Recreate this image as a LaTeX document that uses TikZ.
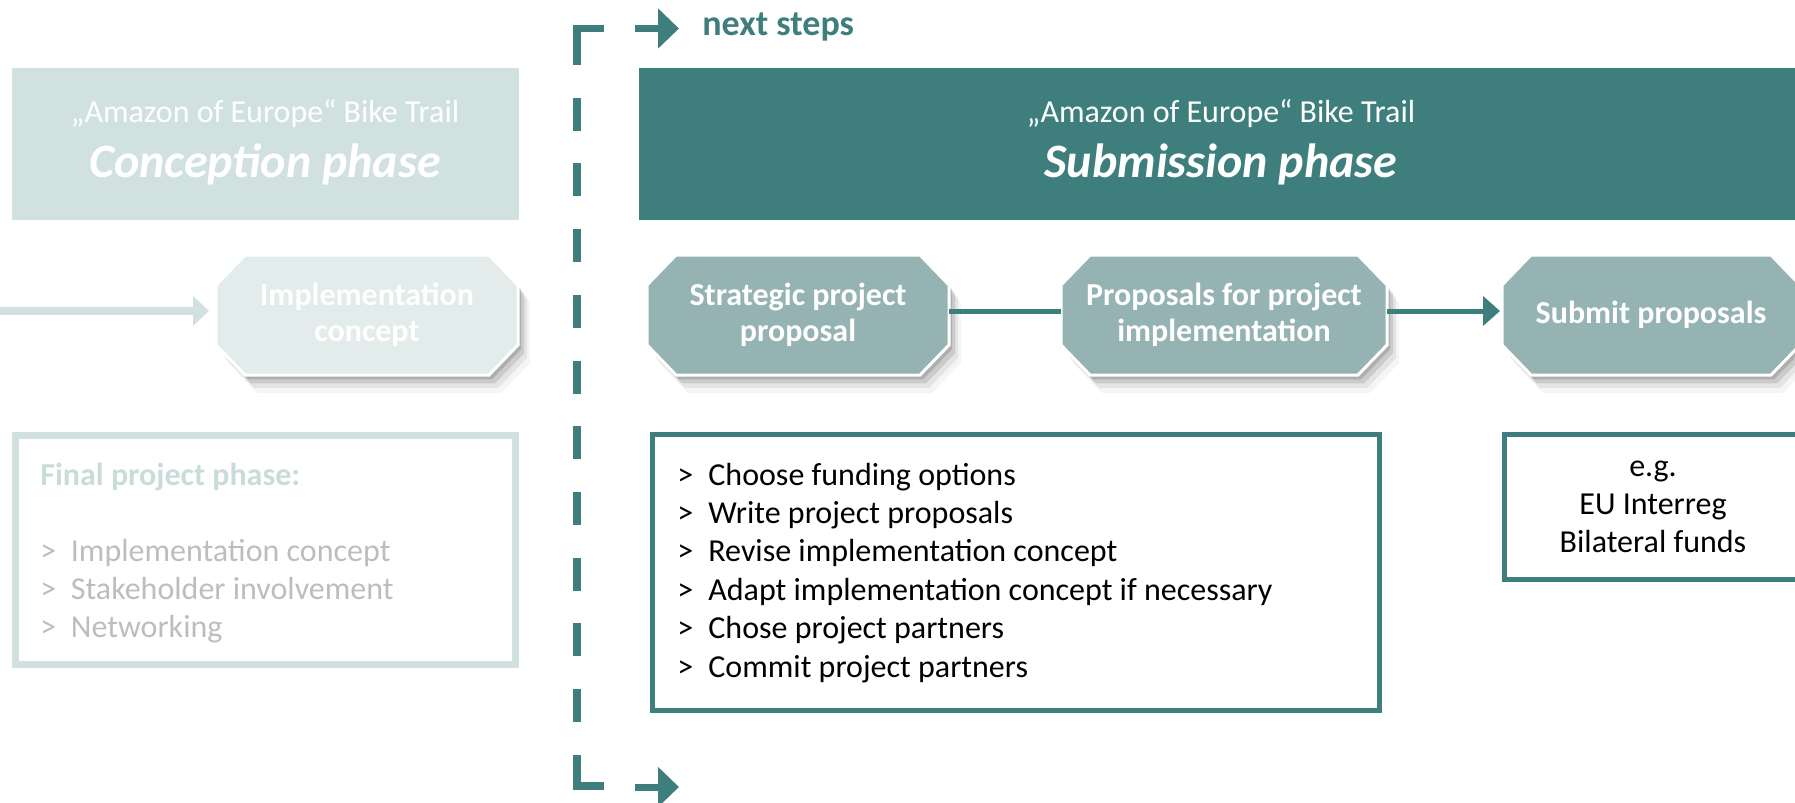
\documentclass[tikz,border=0pt]{standalone}
\usepackage{fontspec}
\setmainfont{Carlito}
\usetikzlibrary{backgrounds,arrows.meta}
\definecolor{tealD}{HTML}{3E7F7D}
\definecolor{octfill}{HTML}{94B3B2}
\definecolor{lightbox}{HTML}{D0E1E0}
\definecolor{lightoct}{HTML}{E2ECEB}
\definecolor{ftitle}{HTML}{C8DCDA}
\definecolor{fitem}{HTML}{BDBDBD}
\newcommand{\octpath}[1]{([xshift=14.5pt]#1.north west) -- ([xshift=-14.5pt]#1.north east) -- ([yshift=-15pt]#1.north east) -- ([yshift=15pt]#1.south east) -- ([xshift=-14.5pt]#1.south east) -- ([xshift=14.5pt]#1.south west) -- ([yshift=15pt]#1.south west) -- ([yshift=-15pt]#1.north west) -- cycle}
\newcommand{\octdraw}[2]{%
  \fill[black, opacity=.04, transform canvas={xshift=6pt,yshift=-9pt}] \octpath{#1};
  \fill[black, opacity=.07, transform canvas={xshift=4.5pt,yshift=-6.5pt}] \octpath{#1};
  \fill[black, opacity=.11, transform canvas={xshift=3pt,yshift=-4.2pt}] \octpath{#1};
  \fill[black, opacity=.14, transform canvas={xshift=1.5pt,yshift=-2.2pt}] \octpath{#1};
  \filldraw[fill=#2, draw=white, line width=1.5pt, line join=miter] \octpath{#1};}
\begin{document}
\begin{tikzpicture}[x=0.5pt,y=-0.5pt,
  oct/.style={rectangle, minimum width=151pt, minimum height=60pt, draw=none, outer sep=0pt, align=center,
    font=\fontsize{16}{18}\selectfont\bfseries, text=white, inner sep=0pt},
  dline/.style={draw=tealD, line width=3.75pt},
  nxarrow/.style={draw=tealD, line width=3.5pt, -{Triangle[length=10.5pt,width=19.5pt]}},
  subtitle/.style={font=\fontsize{16}{18}\selectfont, text=white, inner sep=0pt, anchor=base},
  phasetitle/.style={font=\fontsize{24}{26}\selectfont\bfseries\itshape, text=white, inner sep=0pt, anchor=base},
  listtxt/.style={font=\fontsize{16}{19}\selectfont, text=black, inner sep=0pt, anchor=base west},
  greytxt/.style={font=\fontsize{16}{19}\selectfont, text=fitem, inner sep=0pt, anchor=base west},
  egtxt/.style={font=\fontsize{16}{19}\selectfont, text=black, inner sep=0pt, anchor=base}
]
\useasboundingbox (0,0) rectangle (1795,803);

% phase header boxes
\node[rectangle, fill=lightbox, minimum width=253.5pt, minimum height=76pt, inner sep=0pt] (conc) at (265.5,144) {};
\node[subtitle] (concA) at (265,122) {„Amazon of Europe“ Bike Trail};
\node[phasetitle] (concB) at (265,177) {Conception phase};

\node[rectangle, fill=tealD, minimum width=580pt, minimum height=76pt, inner sep=0pt] (subb) at (1219,144) {};
\node[subtitle] (subA) at (1221,122) {„Amazon of Europe“ Bike Trail};
\node[phasetitle] (subB) at (1221,177) {Submission phase};

% dashed divider
\coordinate (dtopR) at (604,28.5);
\coordinate (dtop) at (577,28.5);
\coordinate (d1) at (577,65);
\coordinate (d2) at (577,755);
\coordinate (dbot) at (577,786);
\coordinate (dbotR) at (604,786);
\draw[dline] (dtopR) -- (dtop) -- (d1);
\draw[dline, dash pattern=on 16.5pt off 16.35pt, dash phase=16.5pt] (d1) -- (d2);
\draw[dline] (d2) -- (dbot) -- (dbotR);

% next steps arrows
\coordinate (na0) at (635,28.5);
\coordinate (na1) at (679,28.5);
\draw[nxarrow] (na0) -- (na1);
\node[font=\fontsize{18}{20}\selectfont\bfseries, text=tealD, inner sep=0pt, anchor=base west] (next) at (702,35) {next steps};
\coordinate (nb0) at (635,787);
\coordinate (nb1) at (679,787);
\draw[nxarrow] (nb0) -- (nb1);

% octagons (text nodes, shapes drawn behind)
\node[oct] (impl) at (367,315) {Implementation\\concept};
\node[oct] (strat) at (798,315) {Strategic project\\proposal};
\node[oct, minimum width=163pt] (prop) at (1224,315) {Proposals for project\\implementation};
\node[oct, minimum width=149pt] (subm) at (1651,315) {Submit proposals};
\begin{scope}[on background layer]
  \octdraw{impl}{lightoct}
  \octdraw{strat}{octfill}
  \octdraw{prop}{octfill}
  \octdraw{subm}{octfill}
\end{scope}

% connectors
\coordinate (lin) at (0,311);
\draw[lightbox, line width=4pt, -{Triangle[length=8pt,width=14.5pt]}, shorten >=3.5pt] (lin) -- (lin -| impl.west);
\draw[tealD, line width=2.5pt] ([yshift=2pt]strat.east) -- ([yshift=2pt]prop.west);
\draw[tealD, line width=2.5pt, -{Triangle[length=8.5pt,width=14.5pt]}, shorten >=1pt] ([yshift=2pt]prop.east) -- ([yshift=2pt]subm.west);

% final project phase box
\node[rectangle, draw=lightbox, line width=3.4pt, minimum width=250.1pt, minimum height=114.6pt, inner sep=0pt] (final) at (265.5,550) {};
\node[font=\fontsize{16}{19}\selectfont\bfseries, text=ftitle, inner sep=0pt, anchor=base west] (fT) at (40,485) {Final project phase:};
\node[greytxt] (f1g) at (40,561) {>};
\node[greytxt] (f1) at (70.5,561) {Implementation concept};
\node[greytxt] (f2g) at (40,599) {>};
\node[greytxt] (f2) at (70.5,599) {Stakeholder involvement};
\node[greytxt] (f3g) at (40,637) {>};
\node[greytxt] (f3) at (70.5,637) {Networking};

% submission list box
\node[rectangle, draw=tealD, line width=2.5pt, minimum width=363.5pt, minimum height=138pt, inner sep=0pt] (list) at (1016,572.5) {};
\node[listtxt] (l1g) at (677,485) {>};
\node[listtxt] (l1) at (708,485) {Choose funding options};
\node[listtxt] (l2g) at (677,523.4) {>};
\node[listtxt] (l2) at (708,523.4) {Write project proposals};
\node[listtxt] (l3g) at (677,561.8) {>};
\node[listtxt] (l3) at (708,561.8) {Revise implementation concept};
\node[listtxt] (l4g) at (677,600.2) {>};
\node[listtxt] (l4) at (708,600.2) {Adapt implementation concept if necessary};
\node[listtxt] (l5g) at (677,638.6) {>};
\node[listtxt] (l5) at (708,638.6) {Chose project partners};
\node[listtxt] (l6g) at (677,677) {>};
\node[listtxt] (l6) at (708,677) {Commit project partners};

% e.g. box
\node[rectangle, draw=tealD, line width=2.5pt, minimum width=146.5pt, minimum height=72.5pt, inner sep=0pt] (eg) at (1651,507) {};
\node[egtxt] (eg1) at (1653,476) {e.g.};
\node[egtxt] (eg2) at (1653,514) {EU Interreg};
\node[egtxt] (eg3) at (1653,552) {Bilateral funds};
\end{tikzpicture}
\end{document}
